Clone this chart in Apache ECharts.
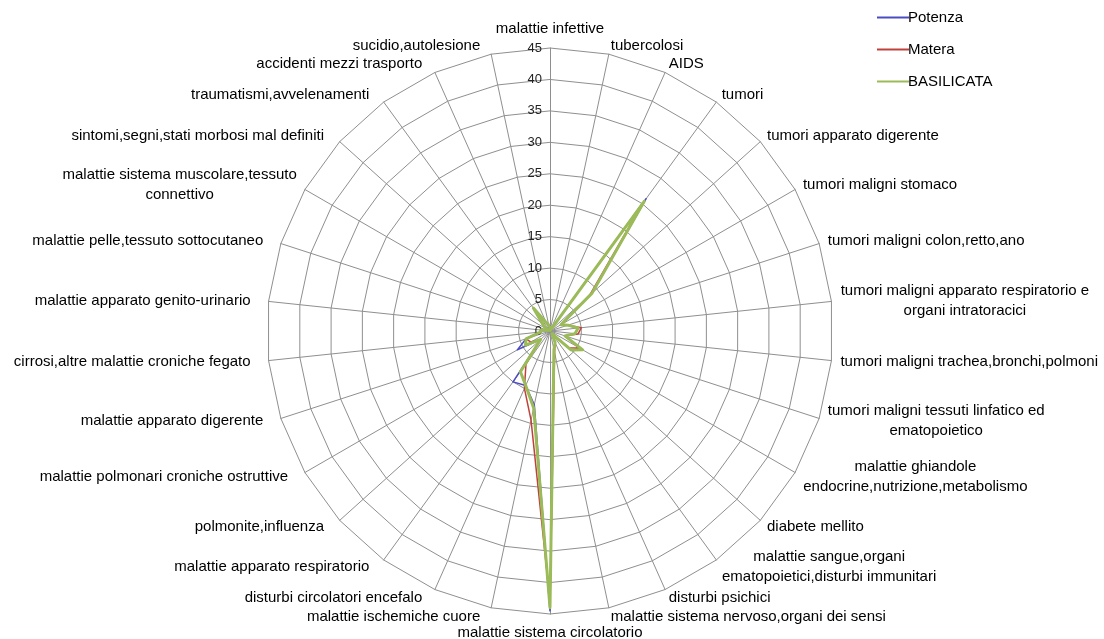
<!DOCTYPE html>
<html>
<head>
<meta charset="utf-8">
<script src="https://cdn.jsdelivr.net/npm/echarts@6/dist/echarts.min.js"></script>
<style>
html, body { margin: 0; padding: 0; background: #fff; }
#main { width: 1104px; height: 639px; }
</style>
</head>
<body>
<div id="main"></div>
<script>
var categories = [
	'malattie infettive', 'tubercolosi', 'AIDS', 'tumori',
	'tumori apparato digerente', 'tumori maligni stomaco',
	'tumori maligni colon,retto,ano',
	'tumori maligni apparato respiratorio e\norgani intratoracici',
	'tumori maligni trachea,bronchi,polmoni',
	'tumori maligni tessuti linfatico ed\nematopoietico',
	'malattie ghiandole\nendocrine,nutrizione,metabolismo',
	'diabete mellito',
	'malattie sangue,organi\nematopoietici,disturbi immunitari',
	'disturbi psichici', 'malattie sistema nervoso,organi dei sensi',
	'malattie sistema circolatorio', 'malattie ischemiche cuore',
	'disturbi circolatori encefalo', 'malattie apparato respiratorio',
	'polmonite,influenza', 'malattie polmonari croniche ostruttive',
	'malattie apparato digerente', 'cirrosi,altre malattie croniche fegato',
	'malattie apparato genito-urinario', 'malattie pelle,tessuto sottocutaneo',
	'malattie sistema muscolare,tessuto\nconnettivo',
	'sintomi,segni,stati morbosi mal definiti', 'traumatismi,avvelenamenti',
	'accidenti mezzi trasporto', 'sucidio,autolesione'
];
var potenza    = [0.8, 0.1, 0.1, 26, 9, 2, 3, 4.5, 4, 2.5, 6, 4.5, 0.5, 2, 3, 44.5, 12, 9.5, 10, 2, 6, 4, 1.5, 1.5, 0.3, 0.5, 1.5, 4.5, 1.5, 1];
var matera     = [0.8, 0.1, 0.1, 25, 8.5, 2, 3, 5, 4.5, 2.5, 5.5, 4, 0.5, 2, 3.5, 43, 14.5, 10, 6.5, 2, 3.5, 4, 1.5, 1.5, 0.3, 0.5, 1.5, 4, 1.5, 1];
var basilicata = [0.8, 0.1, 0.1, 25.5, 9, 2, 3, 4.5, 4, 2.5, 6, 4.5, 0.5, 2, 3, 44, 12.5, 9.5, 8, 2, 4.5, 4, 1.5, 1.5, 0.3, 0.5, 1.5, 4.5, 1.5, 1];
var ticks = [0, 45, 5];

// echarts radar runs counter-clockwise, the original runs clockwise
function clockwise(arr) {
	return [arr[0]].concat(arr.slice(1).reverse());
}

var nameSize = 15;

// two-line names: centre the lines on each other (rich box as wide as the longest line)
var ctx = document.createElement('canvas').getContext('2d');
ctx.font = nameSize + 'px "Liberation Sans"';
var rich = {
	l: { fontSize: nameSize, lineHeight: 20, color: '#000', padding: [0, 9, 0, 0] }
};
categories.forEach(function (c, i) {
	if (c.indexOf('\n') < 0) return;
	var w = Math.max.apply(null, c.split('\n').map(function (l) { return ctx.measureText(l).width; }));
	rich['m' + i] = { width: Math.ceil(w), align: 'center', fontSize: nameSize, lineHeight: 20, color: '#000' };
});

var myChart = echarts.init(document.getElementById('main'));
var gridColor = '#8f8f8f';

var option = {
	backgroundColor: '#fff',
	textStyle: { fontFamily: 'Liberation Sans' },
	legend: {
		orient: 'vertical',
		left: 872,
		top: 5,
		itemGap: 17,
		itemWidth: 32,
		itemHeight: 2,
		icon: 'rect',
		textStyle: { fontSize: 15, color: '#000', padding: [0, 0, 0, -6] },
		data: ['Potenza', 'Matera', 'BASILICATA']
	},
	radar: {
		center: [550, 331],
		radius: 283,
		startAngle: 90,
		shape: 'polygon',
		splitNumber: 9,
		nameGap: 9,
		axisName: {
			color: '#000', fontSize: nameSize, lineHeight: 20, fontFamily: 'Liberation Sans',
			rich: rich,
			formatter: function (name) {
				var i = categories.indexOf(name);
				if (name.indexOf('\n') >= 0) {
					return name.split('\n').map(function (l) { return '{m' + i + '|' + l + '}'; }).join('\n');
				}
				// left half of the web sits a little further out in the original
				if (i > 15 && i !== 25) return '{l|' + name + '}';
				return name;
			}
		},
		axisLine: { lineStyle: { color: gridColor, width: 1 } },
		splitLine: { lineStyle: { color: gridColor, width: 1 } },
		splitArea: { show: false },
		axisTick: { show: false },
		axisLabel: { show: false },
		indicator: clockwise(categories).map(function (c) { return { name: c, min: ticks[0], max: ticks[1] }; })
	},
	// value labels along the vertical spoke
	grid: { left: 550, top: 48, width: 1, height: 283 },
	xAxis: { type: 'value', show: false },
	yAxis: {
		type: 'value', min: ticks[0], max: ticks[1], interval: ticks[2],
		axisLine: { show: false }, axisTick: { show: false }, splitLine: { show: false },
		axisLabel: { margin: 8, fontSize: 13, color: '#222' }
	},
	series: [{
		type: 'radar',
		symbol: 'none',
		data: [
			{ name: 'Potenza', value: clockwise(potenza), lineStyle: { color: '#4b4bc4', width: 1.5 }, itemStyle: { color: '#4b4bc4' } },
			{ name: 'Matera', value: clockwise(matera), lineStyle: { color: '#c0413b', width: 1.5 }, itemStyle: { color: '#c0413b' } },
			{ name: 'BASILICATA', value: clockwise(basilicata), lineStyle: { color: '#9bbb59', width: 3 }, itemStyle: { color: '#9bbb59' } }
		]
	}]
};

myChart.setOption(option);
</script>
</body>
</html>
